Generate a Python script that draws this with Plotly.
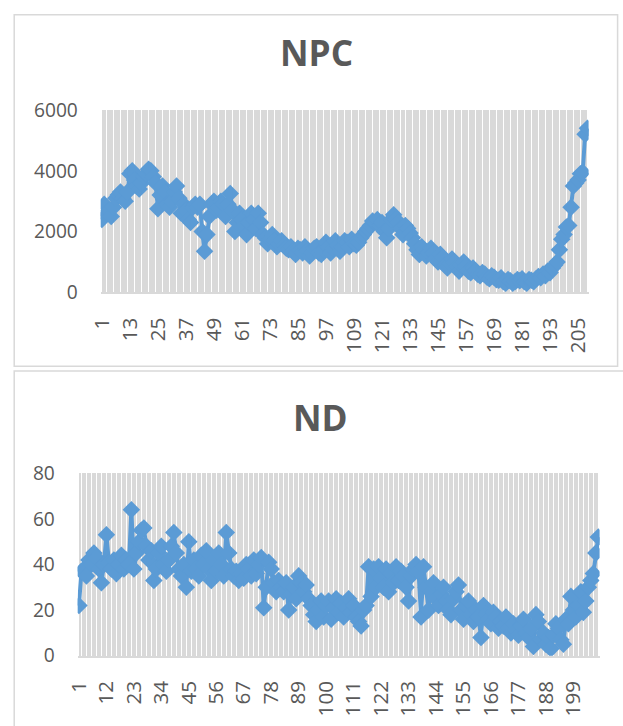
import plotly.graph_objects as go

# ---------------- data ----------------
npc_values = [
    2400, 2900, 2600, 2700, 2500, 2800, 3100, 3200, 3300, 3100,
    3000, 3300, 3900, 4000, 3700, 3500, 3400, 3600, 3800, 3900,
    4050, 4000, 3800, 3600, 2750, 3200, 3500, 3300, 2900, 2800,
    3000, 3300, 3500, 3100, 2600, 2900, 2700, 2400, 2300, 2800,
    2900, 2800, 2900, 2000, 1350, 1900, 2500, 2900, 3000, 2700,
    2800, 3000, 2900, 2500, 2900, 3250, 2700, 2000, 2300, 2600,
    2400, 2200, 1900, 2300, 2600, 2400, 2100, 2600, 2300, 1900,
    1800, 1600, 1750, 1900, 1700, 1500, 1600, 1700, 1550, 1450,
    1400, 1500, 1350, 1250, 1450, 1400, 1300, 1500, 1350, 1200,
    1300, 1450, 1500, 1300, 1250, 1400, 1650, 1500, 1300, 1450,
    1700, 1550, 1350, 1500, 1700, 1650, 1500, 1750, 1600, 1550,
    1650, 1800, 1900, 2000, 2100, 2200, 2350, 2300, 2400, 2200,
    2300, 2000, 1800, 2100, 2400, 2550, 2400, 2300, 2100, 1900,
    2200, 2100, 1950, 1800, 1600, 1400, 1250, 1500, 1400, 1200,
    1300, 1450, 1300, 1100, 1000, 1250, 1150, 900, 800, 950,
    1100, 1000, 850, 700, 900, 1000, 850, 700, 650, 800,
    700, 600, 550, 650, 600, 500, 450, 550, 500, 420,
    400, 480, 350, 300, 420, 380, 300, 350, 420, 380,
    450, 350, 300, 420, 400, 350, 450, 520, 480, 600,
    550, 700, 650, 800, 900, 1000, 1400, 1750, 1900, 2150,
    2200, 2800, 3500, 3600, 3700, 3900, 3950, 5200, 5400,
]

nd_values = [
    22, 37, 38, 35, 42, 40, 45, 43, 38, 32,
    40, 53, 41, 38, 42, 36, 40, 44, 38, 42,
    40, 64, 38, 45, 50, 55, 56, 48, 42, 46,
    33, 38, 45, 48, 40, 37, 42, 48, 54, 45,
    38, 35, 40, 30, 50, 37, 42, 38, 35, 44,
    40, 46, 38, 33, 42, 37, 45, 40, 35, 54,
    45, 38, 35, 37, 33, 36, 34, 40, 38, 35,
    42, 36, 40, 43, 21, 30, 41, 38, 32, 28,
    33, 30, 28, 32, 20, 27, 30, 25, 35, 32,
    28, 31, 25, 22, 18, 15, 20, 24, 17, 22,
    24, 16, 21, 25, 19, 23, 17, 21, 25, 19,
    22, 17, 15, 13, 20, 22, 39, 26, 38, 30,
    39, 34, 30, 38, 28, 36, 32, 39, 33, 37,
    35, 30, 24, 35, 38, 40, 37, 17, 39, 30,
    20, 28, 32, 25, 22, 27, 30, 24, 20, 18,
    25, 28, 31, 20, 16, 22, 24, 18, 15, 20,
    17, 8, 22, 18, 16, 14, 19, 17, 12, 15,
    13, 17, 12, 10, 14, 11, 9, 13, 16, 10,
    8, 12, 4, 18, 15, 7, 10, 5, 8, 3,
    9, 14, 12, 7, 5, 16, 14, 26, 20, 17,
    22, 28, 19, 24, 30, 33, 36, 45, 52,
]

npc_x = list(range(1, len(npc_values) + 1))
nd_x = list(range(1, len(nd_values) + 1))
npc_ticks = list(range(1, len(npc_values) + 1, 12))
nd_ticks = list(range(1, len(nd_values) + 1, 11))
npc_yticks = [0, 2000, 4000, 6000]
nd_yticks = [0, 20, 40, 60, 80]

# ---------------- style ----------------
W, H = 623, 726
BLUE = "#5B9BD5"
TXT = "#595959"
GRID = "#d9d9d9"
TICKFONT = "Open Sans"
TITLEFONT = "Open Sans"

# the captured picture is slightly offset/scaled vs. figure pixels;
# these map a wanted picture position to a figure position
SX, OX = 0.9745, 13.3
SY, OY = 0.966, 13.7


def px_x(p):
    return ((p - OX) / SX) / W


def px_y(p):
    return 1 - ((p - OY) / SY) / H


def fs(s):
    return round(s / SY, 1)


fig = go.Figure()

for xs, ys, xa, ya, nm in [(npc_x, npc_values, "x", "y", "NPC"),
                           (nd_x, nd_values, "x2", "y2", "ND")]:
    fig.add_trace(go.Scatter(
        x=xs, y=ys, mode="lines+markers",
        line=dict(color=BLUE, width=4),
        marker=dict(symbol="diamond", size=13.5, color=BLUE),
        xaxis=xa, yaxis=ya, showlegend=False, name=nm,
    ))

common_x = dict(
    showline=True, linecolor=GRID, linewidth=2,
    showgrid=False, zeroline=False,
    ticks="outside", ticklen=15, tickcolor="rgba(0,0,0,0)",
    tickangle=-90,
    tickfont=dict(family=TICKFONT, size=fs(20), color=TXT),
    minor=dict(showgrid=True, gridcolor=GRID, gridwidth=2, dtick=1, tick0=0.5),
)
common_y = dict(
    showline=False, showgrid=False, zeroline=False,
    ticks="outside", ticklen=18, tickcolor="rgba(0,0,0,0)",
    tickfont=dict(family=TICKFONT, size=fs(18.5), color=TXT),
)

fig.update_layout(
    width=W, height=H,
    margin=dict(l=0, r=0, t=0, b=0),
    paper_bgcolor="white", plot_bgcolor="white",
    xaxis=dict(domain=[px_x(100), px_x(588)], anchor="y",
               range=[0.5, len(npc_values) + 0.5],
               tickmode="array", tickvals=npc_ticks,
               ticktext=[str(t) for t in npc_ticks], **common_x),
    yaxis=dict(domain=[px_y(293), px_y(110)], anchor="x",
               range=[0, 6000], tickmode="array", tickvals=npc_yticks, **common_y),
    xaxis2=dict(domain=[px_x(77), px_x(599)], anchor="y2",
                range=[0.5, len(nd_values) + 0.5],
                tickmode="array", tickvals=nd_ticks,
                ticktext=[str(t) for t in nd_ticks], **common_x),
    yaxis2=dict(domain=[px_y(657.5), px_y(474.5)], anchor="x2",
                range=[0, 80], tickmode="array", tickvals=nd_yticks, **common_y),
    shapes=[
        dict(type="rect", xref="paper", yref="paper",
             x0=px_x(13.5), x1=px_x(617), y0=px_y(367), y1=px_y(14.5),
             line=dict(color=GRID, width=1.5), fillcolor="rgba(0,0,0,0)"),
        dict(type="rect", xref="paper", yref="paper",
             x0=px_x(13.5), x1=px_x(640), y0=px_y(760), y1=px_y(372),
             line=dict(color=GRID, width=1.5), fillcolor="rgba(0,0,0,0)"),
    ],
    annotations=[
        dict(text="<b>NPC</b>", xref="paper", yref="paper",
             x=px_x(316), y=px_y(52), xanchor="center", yanchor="middle",
             showarrow=False,
             font=dict(family=TITLEFONT, size=fs(34), color=TXT)),
        dict(text="<b>ND</b>", xref="paper", yref="paper",
             x=px_x(320), y=px_y(418), xanchor="center", yanchor="middle",
             showarrow=False,
             font=dict(family=TITLEFONT, size=fs(34), color=TXT)),
    ],
)

fig.write_html("out.html", config={"displayModeBar": False},
               post_script="document.body.style.margin='0px';")
